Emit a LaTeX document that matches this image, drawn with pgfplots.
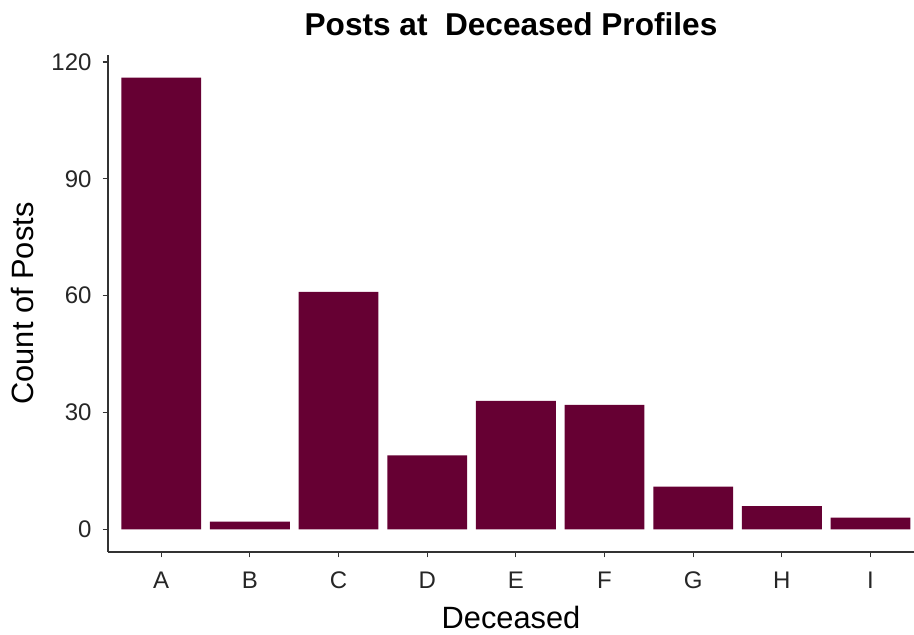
\documentclass[border=0pt]{standalone}
\usepackage{fontspec}
\setmainfont{Liberation Sans}
\usepackage{pgfplots}
\pgfplotsset{compat=1.18}
\definecolor{barc}{HTML}{660033}
\definecolor{axc}{HTML}{333333}
\begin{document}
\begin{tikzpicture}
\begin{axis}[
  scale only axis,
  width=403pt, height=248.5pt,
  xmin=-0.6, xmax=8.49, ymin=-5.8, ymax=121.8,
  axis lines=left,
  axis line style={-, axc, line width=0.6pt},
  tick style={axc, line width=0.6pt},
  major tick length=2.7pt,
  tick align=outside,
  xtick={0,...,8},
  xticklabels={A,B,C,D,E,F,G,H,I},
  ytick={0,30,60,90,120},
  /pgf/number format/assume math mode=true,
  ticklabel style={font=\fontsize{12}{14}\selectfont, text=black!85},
  yticklabel style={anchor=east, xshift=-2pt},
  xticklabel style={anchor=base, yshift=-15.5pt},
  ybar, bar width=0.9,
  title={Posts at\ \ Deceased Profiles},
  title style={font=\bfseries\fontsize{15.8}{18}\selectfont, at={(axis description cs:0.5,1)}, anchor=base, yshift=4pt},
  xlabel={Deceased},
  xlabel style={font=\fontsize{15.4}{18}\selectfont, at={(axis description cs:0.5,0)}, anchor=base, yshift=-38pt},
  ylabel={Count of Posts},
  ylabel style={font=\fontsize{15.4}{18}\selectfont, at={(axis description cs:-0.093,0.5)}, anchor=base, rotate=0},
  clip=false,
]
\addplot[fill=barc, draw=none] coordinates {
  (0,116) (1,2) (2,61) (3,19) (4,33) (5,32) (6,11) (7,6) (8,3)
};
\coordinate (ll) at (rel axis cs:0,0);
\end{axis}
\pgfresetboundingbox
\path (ll) ++(-54pt,-41pt) rectangle ++(457pt,317pt);
\end{tikzpicture}
\end{document}
